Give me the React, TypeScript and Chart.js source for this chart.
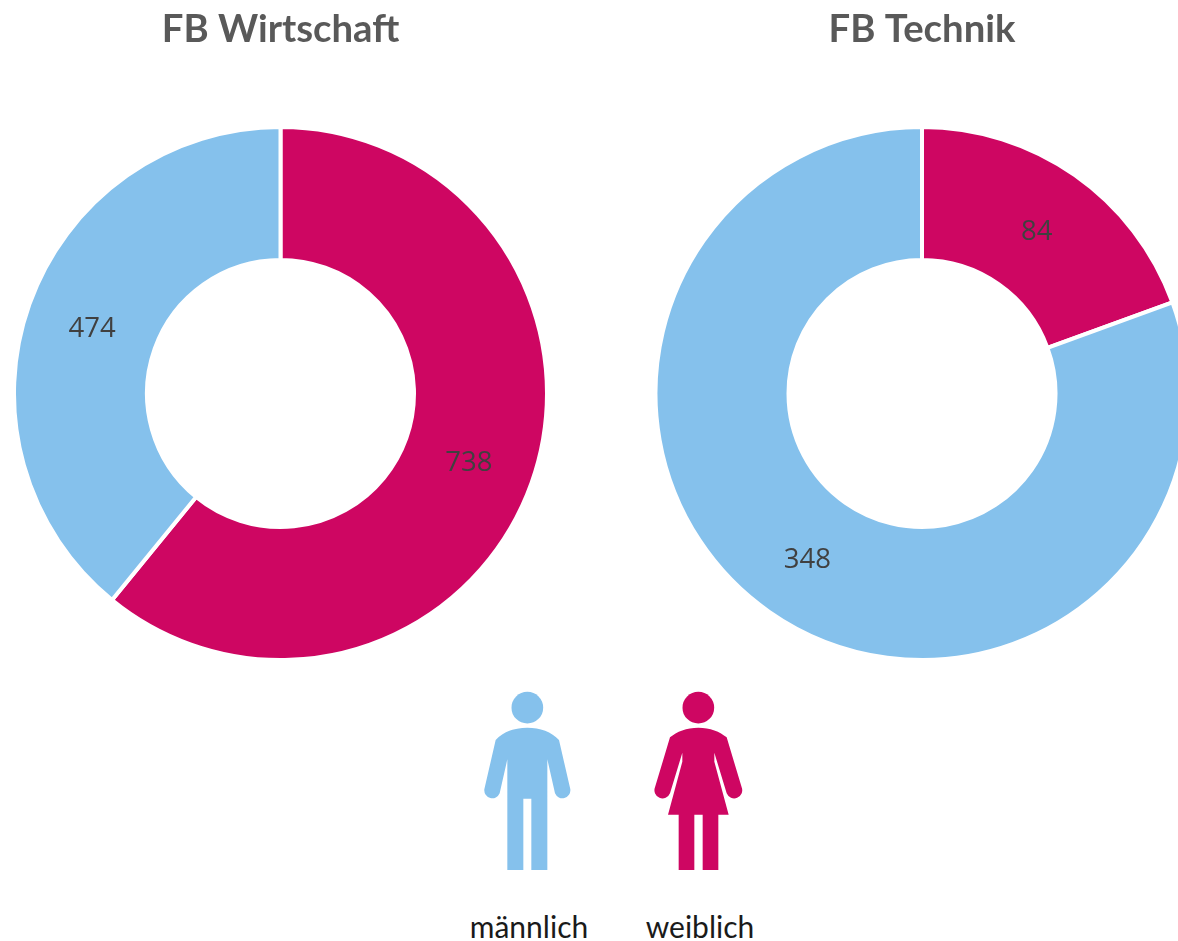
import React, { useEffect, useRef } from "react";
import { Chart, registerables } from "chart.js";

Chart.register(...registerables);

const categories = ["weiblich", "männlich"];
const wirtschaftValues = [738, 474];
const technikValues = [84, 348];
const sliceColors = ["#CE0662", "#85C1EC"];
const FONT = "Lato, 'Open Sans', sans-serif";

const valueLabels = {
  id: "valueLabels",
  afterDatasetsDraw(chart: any) {
    const { ctx } = chart;
    const meta = chart.getDatasetMeta(0);
    const values = chart.data.datasets[0].data;
    ctx.save();
    ctx.font = `27.5px 'Open Sans', sans-serif`;
    ctx.fillStyle = "#404040";
    ctx.textAlign = "center";
    ctx.textBaseline = "middle";
    meta.data.forEach((arc: any, i: number) => {
      const p = arc.getCenterPoint();
      ctx.fillText(String(values[i]), p.x, p.y + 3);
    });
    ctx.restore();
  },
};

function Donut({ title, values, left, width }: { title: string; values: number[]; left: number; width: number }) {
  const ref = useRef<HTMLCanvasElement>(null);
  useEffect(() => {
    const chart = new Chart(ref.current as HTMLCanvasElement, {
      type: "doughnut",
      data: {
        labels: categories,
        datasets: [
          {
            data: values,
            backgroundColor: sliceColors,
            borderColor: "#FFFFFF",
            borderWidth: 4,
          },
        ],
      },
      options: {
        animation: false,
        responsive: false,
        radius: 266.5,
        cutout: 134,
        rotation: 0,
        layout: { padding: 0 },
        plugins: {
          legend: { display: false },
          tooltip: { enabled: false },
          title: {
            display: true,
            text: title,
            color: "#595959",
            font: { family: FONT, size: 38.3, weight: "bold", lineHeight: 1.2 },
            padding: { top: 7, bottom: 71.04 },
          },
        },
      },
      plugins: [valueLabels],
    } as any);
    return () => chart.destroy();
  }, []);
  return (
    <canvas
      ref={ref}
      width={width}
      height={663}
      style={{ position: "absolute", left, top: 0, width, height: 663 }}
    />
  );
}

function LegendIcons() {
  return (
    <svg
      viewBox="0 0 900 783"
      width={300}
      height={261}
      style={{ position: "absolute", left: 460, top: 680 }}
    >
      <g fill={sliceColors[1]}>
        <circle cx={202} cy={83} r={47.5} />
        <path d="M202 143 C240 143 275 155 297 180 L331 328 A24 24 0 0 1 285 340 L262 238 L262 570 L214 570 L214 356 L190 356 L190 570 L142 570 L142 238 L119 340 A24 24 0 0 1 73 328 L107 180 C129 155 164 143 202 143 Z" />
      </g>
      <g fill={sliceColors[0]}>
        <circle cx={715} cy={83} r={47.5} />
        <path d="M715 143 C750 143 780 155 800 172 L845 322 A24 24 0 0 1 800 340 L763 218 L763 245 L806 404 L775 404 L775 570 L728 570 L728 404 L703 404 L703 570 L656 570 L656 404 L624 404 L667 245 L667 218 L630 340 A24 24 0 0 1 585 322 L630 172 C650 155 680 143 715 143 Z" />
      </g>
    </svg>
  );
}

const legendLabelStyle: React.CSSProperties = {
  position: "absolute",
  top: 907,
  width: 160,
  textAlign: "center",
  font: `30px ${FONT}`,
  lineHeight: "38px",
  color: "#1A1A1A",
};

export default function App() {
  return (
    <div
      style={{
        position: "absolute",
        left: 0,
        top: 0,
        width: 1178,
        height: 941,
        overflow: "hidden",
        background: "#FFFFFF",
      }}
    >
      <Donut title="FB Wirtschaft" values={wirtschaftValues} left={11} width={539} />
      <Donut title="FB Technik" values={technikValues} left={652} width={540} />
      <LegendIcons />
      <div style={{ ...legendLabelStyle, left: 449 }}>{categories[1]}</div>
      <div style={{ ...legendLabelStyle, left: 620 }}>{categories[0]}</div>
    </div>
  );
}
